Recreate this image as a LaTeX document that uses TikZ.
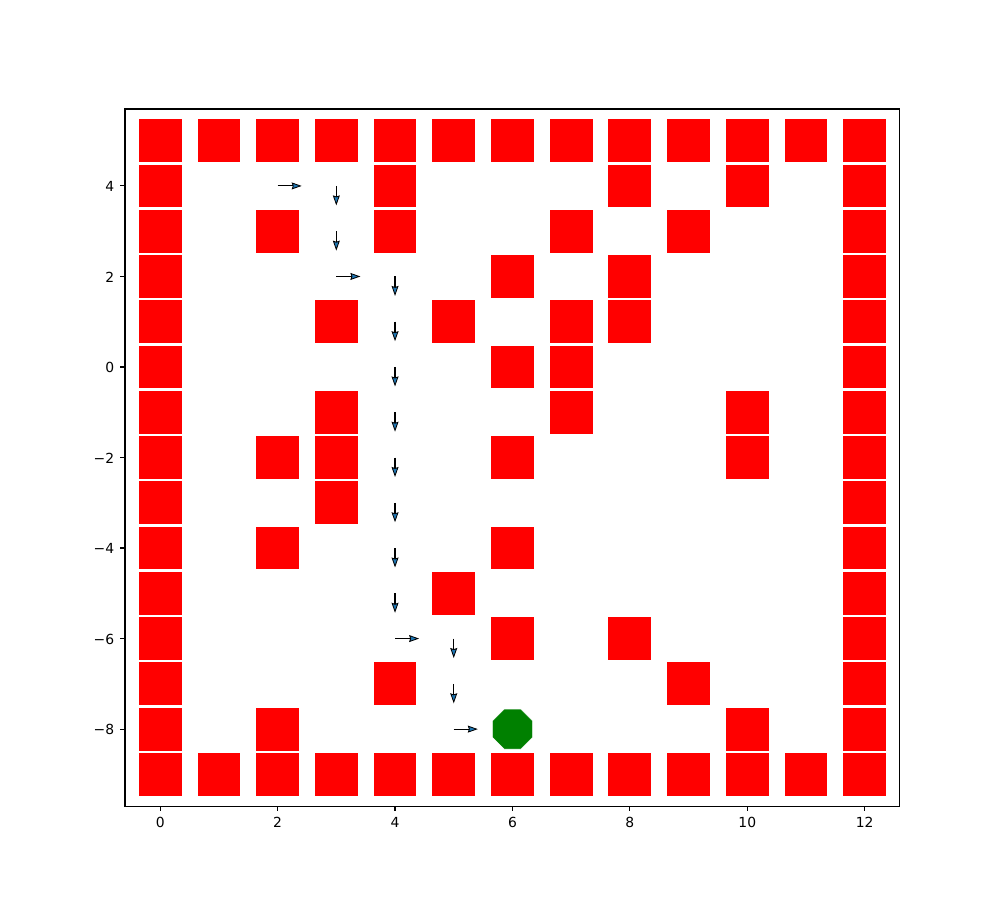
\documentclass[tikz,border=0pt]{standalone}
\usepackage{fontspec}
\setmainfont{DejaVu Sans}
\usetikzlibrary{arrows.meta,shapes.geometric}
\definecolor{mplblue}{HTML}{1F77B4}
\definecolor{mplgreen}{HTML}{008000}
\begin{document}
\begin{tikzpicture}[x=42.27pt,y=32.59pt,
 wall/.style={rectangle,fill=red,minimum width=30.8pt,minimum height=30.8pt,inner sep=0pt,outer sep=0pt},
 goal/.style={regular polygon,regular polygon sides=8,fill=mplgreen,draw=white,line width=0.3pt,minimum size=31.2pt,inner sep=0pt},
 qarrow/.style={line width=0.8pt,-{Stealth[length=7.2pt,width=5pt,inset=0.8pt,fill=mplblue,line width=0.6pt]}},
 tickline/.style={line width=0.8pt},
 ticklabel/.style={font=\fontsize{10}{12}\selectfont,inner sep=0pt}]
\useasboundingbox (-115.34pt,-388.08pt) rectangle (604.66pt,264.24pt);
% walls
\foreach \y/\xs in {5/{0,1,2,3,4,5,6,7,8,9,10,11,12},
                    4/{0,4,8,10,12},
                    3/{0,2,4,7,9,12},
                    2/{0,6,8,12},
                    1/{0,3,5,7,8,12},
                    0/{0,6,7,12},
                    -1/{0,3,7,10,12},
                    -2/{0,2,3,6,10,12},
                    -3/{0,3,12},
                    -4/{0,2,6,12},
                    -5/{0,5,12},
                    -6/{0,6,8,12},
                    -7/{0,4,9,12},
                    -8/{0,2,10,12},
                    -9/{0,1,2,3,4,5,6,7,8,9,10,11,12}}{
  \foreach \x in \xs {
    \node[wall] (w\x/\y) at (\x,\y) {};
  }
}
% goal
\node[goal] (goal) at (6,-8) {};
% policy arrows
\foreach \x/\y in {2/4,3/2,4/-6,5/-8}{
  \coordinate (r\x/\y) at (\x,\y);
  \draw[qarrow] (r\x/\y) -- ++(0.41,0);
}
\foreach \x/\y in {3/4,3/3,4/2,4/1,4/0,4/-1,4/-2,4/-3,4/-4,4/-5,5/-6,5/-7}{
  \coordinate (d\x/\y) at (\x,\y);
  \draw[qarrow] (d\x/\y) -- ++(0,-0.43);
}
% axes frame
\draw[line width=0.8pt] (-0.6,-9.7) rectangle (12.6,5.7);
% x ticks
\foreach \x in {0,2,4,6,8,10,12}{
  \draw[tickline] (\x,-9.7) -- ++(0,-3.5pt);
  \node[ticklabel,anchor=north] (xl\x) at ([yshift=-7.6pt]\x,-9.7) {\x};
}
% y ticks
\foreach \y/\t in {4/4,2/2,0/0,-2/−2,-4/−4,-6/−6,-8/−8}{
  \draw[tickline] (-0.6,\y) -- ++(-3.5pt,0);
  \node[ticklabel,anchor=east] (yl\y) at ([xshift=-7.6pt,yshift=-0.5pt]-0.6,\y) {\t};
}
\end{tikzpicture}
\end{document}
